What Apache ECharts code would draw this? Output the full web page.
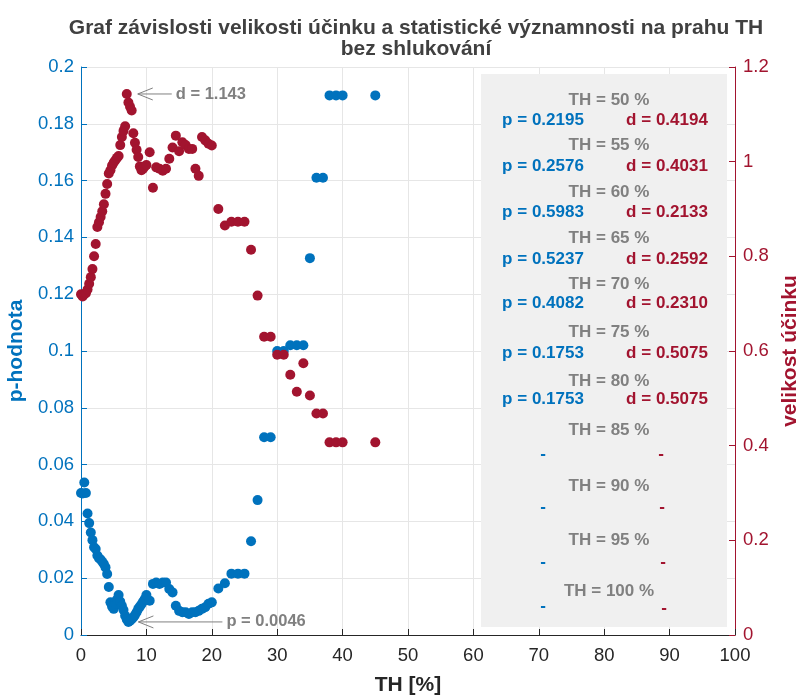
<!DOCTYPE html>
<html>
<head>
<meta charset="utf-8">
<script src="https://cdn.jsdelivr.net/npm/echarts@6/dist/echarts.min.js"></script>
<style>
html, body { margin: 0; padding: 0; background: #fff; }
#main { width: 801px; height: 696px; }
</style>
</head>
<body>
<div id="main"></div>
<script>
// prah TH [%]
var thVals = [
	0, 0.25, 0.5, 0.75, 1, 1.25, 1.5, 1.75, 2, 2.25, 2.5, 2.75, 3, 3.25, 3.5, 3.75,
	4, 4.25, 4.5, 4.75, 5, 5.25, 5.5, 5.75, 6, 6.25, 6.5, 6.75, 7, 7.25, 7.5, 7.75,
	8, 8.25, 8.5, 8.75, 9, 9.25, 9.5, 9.75, 10,
	10.5, 11, 11.5, 12, 12.5, 13, 13.5, 14, 14.5, 15, 15.5, 16, 16.5, 17, 17.5,
	18, 18.5, 19, 19.5, 20,
	21, 22, 23, 24, 25, 26, 27, 28, 29, 30, 31, 32, 33, 34, 35, 36, 37, 38, 39, 40,
	45
];
// p-hodnota
var pVals = [
	0.0500, 0.0498, 0.0537, 0.0500, 0.0428, 0.0394, 0.0361, 0.0334, 0.0309, 0.0303,
	0.0280, 0.0270, 0.0266, 0.0258, 0.0250, 0.0238, 0.0215, 0.0169, 0.0115, 0.0100,
	0.0092, 0.0110, 0.0125, 0.0141, 0.0118, 0.0103, 0.0088, 0.0068, 0.0055, 0.0046,
	0.0050, 0.0056, 0.0062, 0.0070, 0.0080, 0.0092, 0.0100, 0.0108, 0.0118, 0.0127,
	0.0141,
	0.0121, 0.0180, 0.0185, 0.0180, 0.0185, 0.0185, 0.0162, 0.0150, 0.0103, 0.0085,
	0.0080, 0.0080, 0.0074, 0.0080, 0.0080, 0.0085, 0.0092, 0.0098, 0.0110, 0.0115,
	0.0164, 0.0182, 0.0216, 0.0216, 0.0216, 0.0330, 0.0475, 0.0696, 0.0696, 0.1000,
	0.1000, 0.1020, 0.1020, 0.1020, 0.1327, 0.1610, 0.1610, 0.1900, 0.1900, 0.1900,
	0.1900
];
// velikost ucinku d
var dVals = [
	0.720, 0.715, 0.720, 0.722, 0.730, 0.742, 0.756, 0.773, 0.800, 0.826,
	0.862, 0.872, 0.883, 0.895, 0.910, 0.932, 0.953, 0.975, 0.982, 0.992,
	0.998, 1.003, 1.008, 1.012, 1.035, 1.052, 1.065, 1.075, 1.143, 1.125,
	1.116, 1.108, 1.060, 1.040, 1.025, 1.010, 0.990, 0.982, 0.985, 0.990,
	0.993,
	1.020, 0.945, 0.988, 0.985, 0.981, 0.985, 1.006, 1.030, 1.055, 1.022,
	1.041, 1.035, 1.027, 1.027, 0.985, 0.970, 1.052, 1.045, 1.038, 1.034,
	0.900, 0.865, 0.873, 0.873, 0.873, 0.814, 0.717, 0.630, 0.630, 0.592,
	0.592, 0.550, 0.514, 0.574, 0.506, 0.468, 0.468, 0.407, 0.407, 0.407,
	0.407
];
// tabulka pro vyssi prahy
var tableTh = ['50', '55', '60', '65', '70', '75', '80', '85', '90', '95', '100'];
var tableP = ['0.2195', '0.2576', '0.5983', '0.5237', '0.4082', '0.1753', '0.1753', '-', '-', '-', '-'];
var tableD = ['0.4194', '0.4031', '0.2133', '0.2592', '0.2310', '0.5075', '0.5075', '-', '-', '-', '-'];

var blue = '#0072BD';
var red = '#A2142F';
var gray = '#808080';
var fontName = '"Liberation Sans", Arial, Helvetica, sans-serif';

var pData = thVals.map(function(t, i) { return [t, pVals[i]]; });
var dData = thVals.map(function(t, i) { return [t, dVals[i]]; });

var chart = echarts.init(document.getElementById('main'));
var option = {
	backgroundColor: '#fff',
	animation: false,
	textStyle: { fontFamily: fontName },
	title: {
		text: 'Graf závislosti velikosti účinku a statistické významnosti na prahu TH\nbez shlukování',
		left: 411,
		top: 13,
		textAlign: 'center',
		textStyle: {
			fontSize: 21,
			fontWeight: 'bold',
			color: '#404040',
			lineHeight: 21,
			fontFamily: fontName
		}
	},
	grid: { left: 81, right: 66, top: 67, bottom: 61, containLabel: false, outerBoundsMode: 'none' },
	xAxis: {
		type: 'value',
		min: 0,
		max: 100,
		interval: 10,
		name: 'TH [%]',
		nameLocation: 'middle',
		nameGap: 40,
		nameTextStyle: { fontSize: 21, fontWeight: 'bold', color: '#262626' },
		axisLine: { lineStyle: { color: '#262626', width: 1 } },
		axisTick: { inside: true, length: 6, lineStyle: { color: '#262626' } },
		axisLabel: { fontSize: 18.5, color: '#262626', margin: 11 },
		splitLine: { show: true, lineStyle: { color: '#e6e6e6', width: 1 } }
	},
	yAxis: [{
		type: 'value',
		position: 'left',
		min: 0,
		max: 0.2,
		interval: 0.02,
		name: 'p-hodnota',
		nameLocation: 'middle',
		nameGap: 52,
		nameTextStyle: { fontSize: 21, fontWeight: 'bold', color: blue },
		axisLine: { show: true, lineStyle: { color: blue, width: 1 } },
		axisTick: { show: true, inside: true, length: 6, lineStyle: { color: blue } },
		axisLabel: { fontSize: 18.5, color: blue, margin: 7 },
		splitLine: { show: true, lineStyle: { color: '#e6e6e6', width: 1 } }
	}, {
		type: 'value',
		position: 'right',
		min: 0,
		max: 1.2,
		interval: 0.2,
		name: 'velikost účinku',
		nameLocation: 'middle',
		nameGap: 45,
		nameTextStyle: { fontSize: 21, fontWeight: 'bold', color: red },
		axisLine: { show: true, lineStyle: { color: red, width: 1 } },
		axisTick: { show: true, inside: true, length: 6, lineStyle: { color: red } },
		axisLabel: { fontSize: 18.5, color: red, margin: 8 },
		splitLine: { show: false }
	}],
	series: [{
		name: 'p',
		type: 'scatter',
		yAxisIndex: 0,
		symbol: 'circle',
		symbolSize: 10,
		itemStyle: { color: blue, opacity: 1 },
		data: pData
	}, {
		name: 'd',
		type: 'scatter',
		yAxisIndex: 1,
		symbol: 'circle',
		symbolSize: 10,
		itemStyle: { color: red, opacity: 1 },
		data: dData
	}]
};
chart.setOption(option);

// anotace + sedy box s tabulkou
var graphics = [];
function txt(x, y, s, color, size) {
	graphics.push({
		type: 'text', x: x, y: y, z: 20,
		style: {
			text: s, fill: color,
			font: 'bold ' + (size || 17) + 'px ' + fontName,
			textAlign: 'center', align: 'center',
			textVerticalAlign: 'middle', verticalAlign: 'middle'
		}
	});
}
function arrow(tip, y, len) {
	graphics.push({ type: 'line', z: 20, shape: { x1: tip, y1: y, x2: tip + len, y2: y }, style: { stroke: gray, lineWidth: 1 } });
	graphics.push({ type: 'polyline', z: 20, shape: { points: [[tip + 15, y - 6], [tip, y], [tip + 15, y + 6]] }, style: { stroke: gray, lineWidth: 1, fill: null } });
}

// maximum d
var iMax = dVals.indexOf(Math.max.apply(null, dVals));
var ptD = chart.convertToPixel({ xAxisIndex: 0, yAxisIndex: 1 }, [thVals[iMax], dVals[iMax]]);
arrow(ptD[0] + 11, ptD[1], 34);
graphics.push({
	type: 'text', x: ptD[0] + 49, y: ptD[1], z: 20,
	style: { text: 'd = ' + dVals[iMax].toFixed(3), fill: gray, font: 'bold 16.5px ' + fontName, verticalAlign: 'middle', textVerticalAlign: 'middle' }
});
// minimum p
var iMin = pVals.indexOf(Math.min.apply(null, pVals));
var ptP = chart.convertToPixel({ xAxisIndex: 0, yAxisIndex: 0 }, [thVals[iMin], pVals[iMin]]);
arrow(ptP[0] + 10, ptP[1], 84);
graphics.push({
	type: 'text', x: ptP[0] + 98, y: ptP[1], z: 20,
	style: { text: 'p = ' + pVals[iMin].toFixed(4), fill: gray, font: 'bold 16.5px ' + fontName, verticalAlign: 'middle', textVerticalAlign: 'middle' }
});

graphics.push({
	type: 'rect', z: 15,
	shape: { x: 481, y: 74, width: 246, height: 553 },
	style: { fill: '#f0f0f0' }
});
var thY = [100, 145, 192, 238, 284, 332, 381, 430, 486, 540, 591];
var valY = [120, 166, 212, 259, 303, 353, 399, 454, 507, 562, 606];
for (var i = 0; i < tableTh.length; i++) {
	txt(609, thY[i], 'TH = ' + tableTh[i] + ' %', gray);
	if (tableP[i] === '-') {
		txt(543, valY[i], '-', blue);
		txt(661 + (i - 7), valY[i] + (i === 10 ? 2 : 0), '-', red);
	} else {
		txt(543, valY[i], 'p = ' + tableP[i], blue);
		txt(667, valY[i], 'd = ' + tableD[i], red);
	}
}
chart.setOption({ graphic: graphics });
</script>
</body>
</html>
